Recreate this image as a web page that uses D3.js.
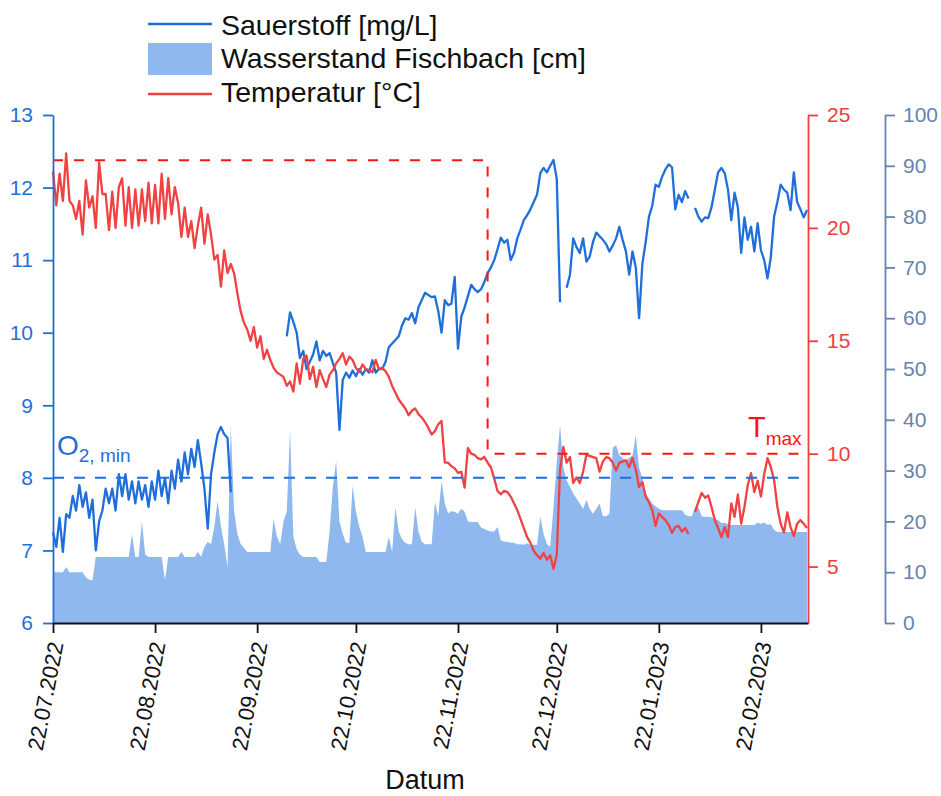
<!DOCTYPE html>
<html>
<head>
<meta charset="utf-8">
<script src="https://cdn.jsdelivr.net/npm/d3@7"></script>
<style>
  html, body { margin: 0; padding: 0; background: #fff; }
  svg { display: block; font-family: "Liberation Sans", Arial, Helvetica, sans-serif; }
</style>
</head>
<body>
<svg id="chart" width="941" height="796"></svg>
<script>
// Messreihe Fischbach, ein Wert pro Tag ab dem Startdatum (null = Messlücke)
const startDatum = "22.07.2022";
const endeTag = 229.3;

const sauerstoff = [
  7.25, 7.05, 7.45, 6.98, 7.5, 7.45, 7.75, 7.55, 7.9, 7.6,
  7.8, 7.45, 7.7, 7.0, 7.4, 7.55, 7.85, 7.65, 7.85, 7.55,
  8.05, 7.75, 8.05, 7.7, 7.95, 7.65, 7.95, 7.7, 7.9, 7.6,
  7.95, 7.7, 8.1, 7.75, 8.0, 7.65, 8.1, 7.85, 8.25, 7.95,
  8.35, 8.05, 8.4, 8.15, 8.52, 8.2, 7.85, 7.3, 8.05, 8.35,
  8.6, 8.7, 8.6, 8.55, 7.8, null, null, null, null, null,
  null, null, null, null, null, null, null, null, null, null,
  null, 9.95, 10.28, 10.15, 10.0, 9.65, 9.75, 9.5, 9.6, 9.7,
  9.88, 9.62, 9.75, 9.68, 9.72, 9.58, 9.45, 8.66, 9.35, 9.45,
  9.38, 9.48, 9.4, 9.5, 9.42, 9.5, 9.45, 9.62, 9.45, 9.5,
  9.5, 9.6, 9.8, 9.85, 9.9, 9.95, 10.1, 10.2, 10.18, 10.27,
  10.13, 10.35, 10.45, 10.55, 10.52, 10.49, 10.5, 10.3, 10.0, 10.45,
  10.38, 10.4, 10.77, 9.78, 10.22, 10.35, 10.5, 10.66, 10.6, 10.56,
  10.6, 10.7, 10.82, 10.9, 11.0, 11.15, 11.31, 11.24, 11.28, 11.0,
  11.1, 11.3, 11.42, 11.55, 11.62, 11.7, 11.8, 11.9, 12.2, 12.27,
  12.21, 12.3, 12.38, 12.12, 10.42, null, 10.62, 10.8, 11.3, 11.18,
  11.1, 11.3, 10.98, 11.05, 11.25, 11.38, 11.33, 11.28, 11.22, 11.12,
  11.2, 11.3, 11.46, 11.28, 11.12, 10.8, 11.12, 10.9, 10.2, 10.95,
  11.25, 11.6, 11.75, 12.04, 12.01, 12.15, 12.25, 12.32, 12.28, 11.7,
  11.9, 11.8, 11.95, 11.85, null, 11.72, 11.6, 11.53, 11.59, 11.58,
  11.73, 11.97, 12.21, 12.27, 12.2, 11.97, 11.55, 11.93, 11.73, 11.1,
  11.59, 11.28, 11.46, 11.12, 11.51, 11.14, 11.0, 10.75, 11.04, 11.6,
  11.8, 12.04, 11.97, 11.93, 11.69, 12.21, 11.8, 11.7, 11.59, 11.69
];

const temperatur = [
  22.5, 21.0, 22.4, 21.2, 23.3, 21.2, 21.0, 20.4, 21.2, 19.7,
  22.1, 20.9, 21.4, 20.0, 22.9, 21.5, 21.5, 19.9, 21.6, 20.0,
  21.8, 22.2, 20.1, 21.8, 20.0, 21.7, 20.1, 21.7, 20.3, 22.0,
  20.2, 21.9, 20.2, 22.4, 20.4, 22.2, 20.6, 21.8, 21.1, 19.6,
  20.9, 19.6, 20.3, 19.1, 20.1, 20.9, 19.3, 20.6, 19.7, 18.6,
  18.8, 17.4, 19.0, 18.0, 18.4, 18.0, 17.1, 16.3, 15.8, 15.5,
  15.0, 15.6, 14.7, 15.2, 14.2, 14.6, 14.15, 13.8, 13.6, 13.5,
  13.4, 13.0, 13.2, 12.75, 14.0, 13.1, 14.2, 14.35, 13.3, 13.85,
  12.95, 13.7, 13.3, 12.95, 13.5, 13.7, 14.0, 14.2, 14.45, 13.95,
  14.3, 14.15, 13.8, 13.62, 13.95, 13.75, 13.7, 13.6, 14.15, 13.75,
  13.8, 13.65, 13.4, 13.0, 12.7, 12.4, 12.2, 12.0, 11.7, 11.9,
  12.0, 11.75, 11.6, 11.4, 11.14, 10.85, 11.0, 11.3, 11.45, 9.6,
  9.6, 9.45, 9.35, 9.15, 9.2, 8.5, 10.25, 10.0, 9.95, 9.8,
  9.75, 9.85, 9.6, 9.4, 8.9, 8.35, 8.2, 8.35, 8.3, 8.1,
  7.8, 7.5, 7.1, 6.7, 6.3, 6.05, 5.7, 5.5, 5.35, 5.6,
  5.3, 5.5, 4.9, 5.5, 9.3, 10.3, 9.6, 9.85, 8.7, 8.95,
  8.7, 9.2, 9.95, 9.9, 9.85, 9.8, 9.2, 9.65, 9.85, 9.8,
  9.6, 9.25, 9.6, 9.65, 9.7, 9.4, 9.81, 9.3, 8.52, 8.74,
  8.1, 7.85, 7.5, 6.8, 7.35, 7.19, 7.06, 6.84, 6.5, 6.75,
  6.8, 6.55, 6.7, 6.45, null, 7.42, 7.86, 8.26, 8.05, 8.15,
  7.64, 7.06, 6.7, 6.3, 6.75, 6.3, 7.8, 7.2, 8.2, 6.9,
  7.64, 8.6, 9.14, 8.3, 8.8, 8.1, 9.1, 9.8, 9.41, 8.83,
  7.64, 6.9, 6.5, 7.4, 6.75, 6.35, 6.9, 7.06, 6.9, 6.7
];

const wasserstand = [
  10, 10, 10, 10, 11, 10, 10, 10, 10, 10,
  9.0, 8.5, 8.4, 13, 13, 13, 13, 13, 13, 13,
  13, 13, 13, 13, 17.5, 13, 13, 20, 13.5, 13,
  13, 13, 13, 13, 8.5, 13, 13, 13, 13, 14,
  13, 13, 13, 13, 14, 13, 15, 16, 15.5, 19,
  24, 19, 15.5, 11, 39, 22, 17.5, 15.5, 14.8, 14,
  14, 14, 14, 14, 14, 14, 14, 20.5, 17, 15.5,
  20, 22, 38, 17, 14.5, 13.5, 13, 13, 13, 13,
  13, 12, 12, 12, 18, 26.8, 32, 20, 17.5, 15.8,
  15.8, 27, 22, 19, 17, 14, 14, 14, 14, 14,
  14, 14, 17, 14, 22.8, 18, 16.5, 15.8, 15.5, 15.5,
  22.8, 18, 16, 15.5, 15.5, 15.5, 23.8, 21, 28, 23.5,
  21.6, 22, 21.9, 21.5, 22.5, 21.9, 20, 19.9, 19.9, 19.9,
  18.8, 18.5, 18.2, 18, 18, 18.9, 16.3, 16, 16, 15.8,
  15.8, 15.5, 15.5, 15.4, 15.7, 15.4, 15.4, 15.4, 20.9, 17.5,
  15.5, 15, 22.8, 31.5, 39, 30.5, 28, 26.8, 25.5, 24.5,
  23.5, 22.5, 24.2, 22.5, 21.5, 22.5, 23.5, 21, 21, 21.5,
  34.5, 35, 33, 32.5, 32, 32.5, 33, 37, 30.5, 28.5,
  25.5, 24.5, 23.5, 23, 22.5, 22.2, 22.2, 22.2, 22.2, 22.2,
  22.2, 22.2, 21.3, 21, 21, 22.8, 22.8, 21, 20.9, 20.9,
  20.8, 20.5, 20.3, 19.7, 19.7, 19.5, 19.3, 19.3, 19.3, 19.3,
  19.3, 19.3, 19.3, 19.3, 19.8, 19.5, 19.8, 19.3, 19.5, 18.3,
  17.9, 17.9, 17.9, 17.9, 17.9, 17.9, 17.9, 17.9, 17.9, 17.9
];

const o2Ticks = [6, 7, 8, 9, 10, 11, 12, 13];
const tempTicks = [5, 10, 15, 20, 25];
const pegelTicks = [0, 10, 20, 30, 40, 50, 60, 70, 80, 90, 100];
const datumTicks = ["22.07.2022", "22.08.2022", "22.09.2022", "22.10.2022",
                    "22.11.2022", "22.12.2022", "22.01.2023", "22.02.2023"];

// Grenzwerte
const o2Min = 8;
const tMaxSommer = 23;
const tMaxWinter = 10;
const tMaxWechsel = "01.12.2022";

const legende = ["Sauerstoff [mg/L]", "Wasserstand Fischbach [cm]", "Temperatur [°C]"];

// ---------- Zeichnung ----------
const col = {
  o2: "#1f6fdb",
  temp: "#f04242",
  tempAxis: "#f03c3c",
  dashRed: "#ff1414",
  fill: "#8fb8ef",
  pegel: "#6783ab"
};

const plot = { left: 53, right: 808, top: 115, bottom: 623 };
const svg = d3.select("#chart");
const parse = d3.utcParse("%d.%m.%Y");
const t0 = parse(startDatum).getTime();
const DAY = 864e5;
const dateAt = i => new Date(t0 + i * DAY);

const x = d3.scaleUtc()
  .domain([dateAt(0), dateAt(endeTag)])
  .range([plot.left, plot.right]);
const yO2 = d3.scaleLinear().domain([6, 13]).range([plot.bottom, plot.top]);
const yT = d3.scaleLinear().domain([2.5, 25]).range([plot.bottom, plot.top]);
const yW = d3.scaleLinear().domain([0, 100]).range([plot.bottom, plot.top]);

const o2Data = sauerstoff.map((v, i) => ({ t: dateAt(i), v }));
const tData = temperatur.map((v, i) => ({ t: dateAt(i), v }));
const wData = wasserstand.map((v, i) => ({ t: dateAt(i), v }));

// Wasserstand als Fläche
svg.append("path")
  .datum(wData)
  .attr("fill", col.fill)
  .attr("d", d3.area()
    .x(d => x(d.t))
    .y0(yW(0))
    .y1(d => yW(d.v)));

// Sauerstoff
svg.append("path")
  .datum(o2Data)
  .attr("fill", "none")
  .attr("stroke", col.o2)
  .attr("stroke-width", 2.3)
  .attr("stroke-linejoin", "round")
  .attr("d", d3.line().defined(d => d.v != null).x(d => x(d.t)).y(d => yO2(d.v)));

// Temperatur
svg.append("path")
  .datum(tData)
  .attr("fill", "none")
  .attr("stroke", col.temp)
  .attr("stroke-width", 2.3)
  .attr("stroke-linejoin", "round")
  .attr("d", d3.line().defined(d => d.v != null).x(d => x(d.t)).y(d => yT(d.v)));

// Grenzwertlinien
svg.append("line")
  .attr("x1", plot.left).attr("x2", plot.right)
  .attr("y1", yO2(o2Min)).attr("y2", yO2(o2Min))
  .attr("stroke", col.o2).attr("stroke-width", 2)
  .attr("stroke-dasharray", "11,10");

const wechsel = parse(tMaxWechsel);
svg.append("path")
  .attr("fill", "none")
  .attr("stroke", col.dashRed).attr("stroke-width", 2)
  .attr("stroke-dasharray", "10,11")
  .attr("d", d3.line()([
    [plot.left, yT(tMaxSommer)],
    [x(wechsel), yT(tMaxSommer)],
    [x(wechsel), yT(tMaxWinter)],
    [plot.right, yT(tMaxWinter)]
  ]));

// Achsen
function styleAxis(g, color, size) {
  g.attr("font-family", null).attr("font-size", null);
  g.select(".domain").attr("stroke", color).attr("stroke-width", 1.8);
  g.selectAll(".tick line").attr("stroke", color).attr("stroke-width", 1.8);
  g.selectAll(".tick text").attr("fill", color).style("font-size", size + "px");
}

const halves = (a, b, step) => d3.range(a, b + 1e-9, step);

// links: Sauerstoff
const gL = svg.append("g").attr("transform", `translate(${plot.left},0)`);
gL.call(d3.axisLeft(yO2).tickValues(halves(6.5, 12.5, 1)).tickSize(5).tickSizeOuter(0).tickFormat(""));
gL.call(d3.axisLeft(yO2).tickValues(o2Ticks).tickSize(10).tickSizeOuter(0).tickPadding(10).tickFormat(d3.format("d")));
styleAxis(gL, col.o2, 21);

// rechts: Temperatur
const gR = svg.append("g").attr("transform", `translate(${plot.right},0)`);
gR.call(d3.axisRight(yT).tickValues(halves(2.5, 22.5, 5)).tickSize(5).tickSizeOuter(0).tickFormat(""));
gR.call(d3.axisRight(yT).tickValues(tempTicks).tickSize(10).tickSizeOuter(0).tickPadding(9).tickFormat(d3.format("d")));
styleAxis(gR, col.tempAxis, 21);

// rechts außen: Wasserstand
const gW = svg.append("g").attr("transform", "translate(885,0)");
gW.call(d3.axisRight(yW).tickValues(halves(5, 95, 10)).tickSize(5).tickSizeOuter(0).tickFormat(""));
gW.call(d3.axisRight(yW).tickValues(pegelTicks).tickSize(10).tickSizeOuter(0).tickPadding(8).tickFormat(d3.format("d")));
styleAxis(gW, col.pegel, 21);

// unten: Datum
const majorDates = datumTicks.map(parse);
const minorDates = [];
for (let i = 0; i < majorDates.length; i++) {
  const a = majorDates[i];
  const b = i + 1 < majorDates.length ? majorDates[i + 1] : d3.utcMonth.offset(a, 1);
  const m = new Date((a.getTime() + b.getTime()) / 2);
  if (m <= x.domain()[1]) minorDates.push(m);
}
const gB = svg.append("g").attr("transform", `translate(0,${plot.bottom})`);
gB.call(d3.axisBottom(x).tickValues(minorDates).tickSize(5).tickSizeOuter(0).tickFormat(""));
gB.call(d3.axisBottom(x).tickValues(majorDates).tickSize(10).tickSizeOuter(0).tickFormat(""));
styleAxis(gB, "#111", 21);

svg.append("g").selectAll("text")
  .data(datumTicks)
  .join("text")
  .attr("transform", (d, i) => `translate(${x(majorDates[i]) + 3},${plot.bottom + 19}) rotate(-79)`)
  .attr("text-anchor", "end")
  .attr("dy", "0.35em")
  .style("font-size", "22px")
  .attr("fill", "#111")
  .text(d => d);

svg.append("text")
  .attr("x", 425).attr("y", 789)
  .attr("text-anchor", "middle")
  .style("font-size", "27px")
  .attr("fill", "#111")
  .text("Datum");

// Beschriftung Grenzwerte
const o2Label = svg.append("text").attr("x", 57).attr("y", 455).attr("fill", col.o2).style("font-size", "28px");
o2Label.append("tspan").text("O");
o2Label.append("tspan").attr("dy", 7).style("font-size", "19px").text("2, min");

const tLabel = svg.append("text").attr("x", 748).attr("y", 437).attr("fill", col.dashRed).style("font-size", "29px");
tLabel.append("tspan").text("T");
tLabel.append("tspan").attr("dy", 8).style("font-size", "19px").text("max");

// Legende
const lg = svg.append("g");
lg.append("line").attr("x1", 148).attr("x2", 212).attr("y1", 24).attr("y2", 24)
  .attr("stroke", col.o2).attr("stroke-width", 2.5);
lg.append("rect").attr("x", 148).attr("y", 43).attr("width", 64).attr("height", 32)
  .attr("fill", col.fill);
lg.append("line").attr("x1", 148).attr("x2", 212).attr("y1", 94).attr("y2", 94)
  .attr("stroke", col.temp).attr("stroke-width", 2.5);
lg.selectAll("text.leg")
  .data(legende)
  .join("text")
  .attr("class", "leg")
  .attr("x", 221)
  .attr("y", (d, i) => [35, 68, 102][i])
  .style("font-size", "28.5px")
  .attr("fill", "#111")
  .text(d => d);
</script>
</body>
</html>
